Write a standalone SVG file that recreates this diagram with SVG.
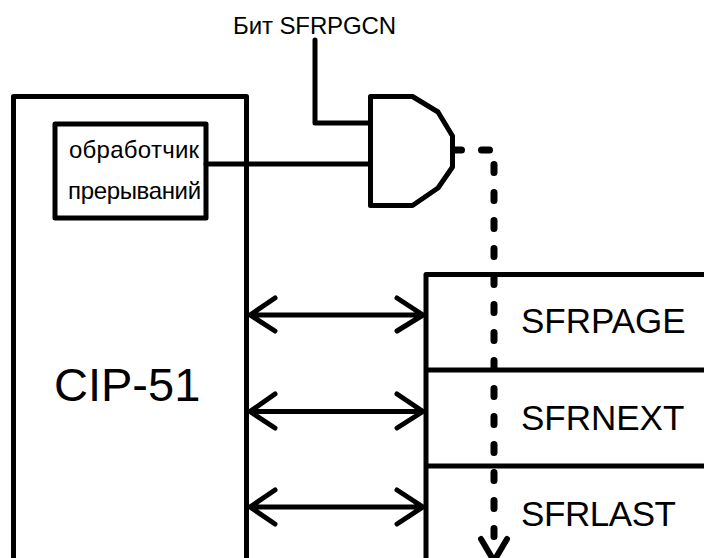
<svg xmlns="http://www.w3.org/2000/svg" width="704" height="558" viewBox="0 0 704 558">
<style>
.s{fill:none;stroke:#000;stroke-width:5;stroke-linejoin:round;stroke-linecap:round}
.d{stroke-width:7;stroke-dasharray:8 20}
.t{font-family:"Liberation Sans",Arial,sans-serif;fill:#000}
.sm{font-size:24px;letter-spacing:-.1px}
.reg{font-size:35px}
</style>
<rect width="704" height="558" fill="#fff"/>
<g id="cip51">
<path class="s" d="M13.500 570V96.500H246.500V570"/>
<text class="t" x="54" y="401" font-size="47">CIP-51</text>
</g>
<g id="connectors">
<path class="s" d="M315 40V123H370"/>
<path class="s" d="M206 164H370"/>
<path class="s d" d="M453.500 150H494M494 164.500V540"/>
<path class="s" style="stroke-width:6" d="M481 539L494 561L507 539"/>
<path class="s" d="M250 315H423M275 298L250 315L275 331M397 298L423 315L397 331"/>
<path class="s" d="M250 411.500H423M275 394L250 411.500L275 428M397 394L423 411.500L397 428"/>
<path class="s" d="M250 507H423M275 490L250 507L275 524M397 490L423 507L397 524"/>
</g>
<g id="handler">
<rect class="s" x="55" y="124" width="151" height="94" fill="#fff"/>
<text class="t sm" x="69" y="158" textLength="130">обработчик</text>
<text class="t sm" x="68" y="199" textLength="133">прерываний</text>
</g>
<g id="and-gate">
<path class="s" d="M370.500 96.500H412.500L438 112L452.500 136V167L438 188L412.500 205.500H370.500Z"/>
</g>
<g id="label-sfrpgcn">
<text class="t sm" x="233" y="34">Бит SFRPGCN</text>
</g>
<g id="registers">
<path class="s" d="M426 570V274.500H710M426 370H710M426 466H710"/>
<text class="t reg" x="521" y="333">SFRPAGE</text>
<text class="t reg" x="521" y="430">SFRNEXT</text>
<text class="t reg" x="521" y="526" textLength="155">SFRLAST</text>
</g>
</svg>
